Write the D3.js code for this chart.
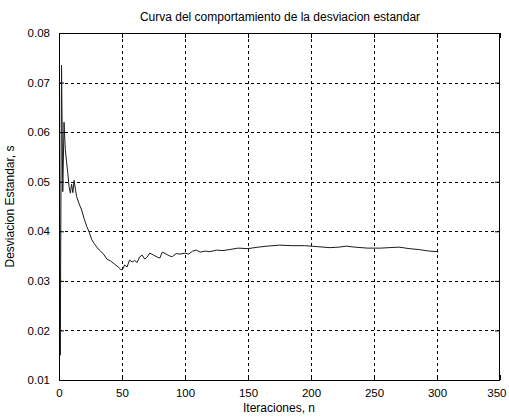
<!DOCTYPE html>
<html><head><meta charset="utf-8">
<script src="https://cdn.jsdelivr.net/npm/d3@7"></script>
<style>body{margin:0;background:#fff}svg{display:block}</style>
</head><body><div id="chart"></div>
<script>
const titleText = "Curva del comportamiento de la desviacion estandar";
const xLabel = "Iteraciones, n";
const yLabel = "Desviacion Estandar, s";
const xTicks = [0, 50, 100, 150, 200, 250, 300, 350];
const yTicks = [0.01, 0.02, 0.03, 0.04, 0.05, 0.06, 0.07, 0.08];
const iteraciones = [0,1,2,3,4,5,6,7,8,9,10,11,12,13,14,16,18,20,22,24,26,28,30,32,35,38,41,44,47,49,50,51,52,54,56,58,60,62,64,66,68,70,72,75,78,80,82,85,88,90,93,96,100,103,106,109,112,116,120,125,130,135,142,150,158,165,175,185,195,205,215,222,228,235,245,255,262,270,278,286,294,300,301];
const desviacion = [0.0805,0.015,0.0735,0.048,0.062,0.0565,0.054,0.0517,0.049,0.0477,0.0495,0.0478,0.0503,0.0485,0.047,0.0455,0.0443,0.0425,0.041,0.0398,0.0383,0.0375,0.0368,0.0362,0.0355,0.0344,0.034,0.0334,0.0328,0.0323,0.0322,0.0326,0.0332,0.0328,0.0342,0.0338,0.0341,0.0337,0.0348,0.0352,0.0344,0.0348,0.0356,0.0352,0.0348,0.0346,0.0358,0.0354,0.035,0.0349,0.0355,0.0354,0.0356,0.0354,0.036,0.0362,0.0358,0.036,0.0359,0.0362,0.0361,0.0363,0.0366,0.0365,0.0368,0.037,0.0372,0.0371,0.0371,0.0369,0.0367,0.0368,0.037,0.0368,0.0366,0.0366,0.0367,0.0368,0.0365,0.0363,0.036,0.0359,0.0358];

const W = 509, H = 418;
const m = {left: 59, right: 500, top: 33, bottom: 380};
const svg = d3.select("#chart").append("svg").attr("width", W).attr("height", H);
svg.append("rect").attr("width", W).attr("height", H).attr("fill", "#fff");

const x = d3.scaleLinear().domain([0, 350]).range([m.left, m.right]);
const y = d3.scaleLinear().domain([0.01, 0.08]).range([m.bottom, m.top]);
const font = "'Liberation Sans', Arial, sans-serif";
const fs = 11.5;

// grid
const g = svg.append("g");
g.selectAll(".vg").data(xTicks.slice(1, -1)).enter().append("line")
  .attr("x1", d => Math.round(x(d)) + 0.5).attr("x2", d => Math.round(x(d)) + 0.5)
  .attr("y1", m.top).attr("y2", m.bottom)
  .attr("stroke", "#000").attr("stroke-dasharray", "3,3").attr("stroke-width", 1);
g.selectAll(".hg").data(yTicks.slice(1, -1)).enter().append("line")
  .attr("y1", d => Math.round(y(d)) + 0.5).attr("y2", d => Math.round(y(d)) + 0.5)
  .attr("x1", m.left).attr("x2", m.right)
  .attr("stroke", "#000").attr("stroke-dasharray", "3,3").attr("stroke-width", 1);

// data line
svg.append("clipPath").attr("id", "clip").append("rect")
  .attr("x", m.left).attr("y", m.top).attr("width", m.right - m.left).attr("height", m.bottom - m.top);
const pts = iteraciones.map((n, i) => [n, desviacion[i]]);
svg.append("path").datum(pts).attr("clip-path", "url(#clip)")
  .attr("fill", "none").attr("stroke", "#1a1a1a").attr("stroke-width", 1)
  .attr("d", d3.line().x(d => x(d[0])).y(d => y(d[1])));

// axes (inside ticks)
const ax = svg.append("g").attr("font-family", font);
const bottomAxis = d3.axisBottom(x).tickValues(xTicks).tickSize(-5).tickFormat(d3.format("d")).tickPadding(9);
const topAxis = d3.axisTop(x).tickValues(xTicks).tickSize(-5).tickFormat("");
const leftAxis = d3.axisLeft(y).tickValues(yTicks).tickSize(-5).tickFormat(d3.format(".2f")).tickPadding(9);
const rightAxis = d3.axisRight(y).tickValues(yTicks).tickSize(-5).tickFormat("");
function style(sel) {
  sel.select(".domain").remove();
  sel.selectAll("line").attr("stroke", "#000");
  sel.selectAll("text").attr("font-family", font).attr("font-size", fs).attr("fill", "#000");
}
ax.append("g").attr("transform", `translate(0,${m.bottom})`).call(bottomAxis).call(style);
ax.append("g").attr("transform", `translate(0,${m.top})`).call(topAxis).call(style);
ax.append("g").attr("transform", `translate(${m.left},0)`).call(leftAxis).call(style);
ax.append("g").attr("transform", `translate(${m.right},0)`).call(rightAxis).call(style);
// keep last x tick label inside the page
ax.selectAll("text").filter(d => d === 350).attr("text-anchor", "end").attr("dx", 6);
svg.append("rect").attr("x", m.left + 0.5).attr("y", m.top + 0.5)
  .attr("width", m.right - m.left - 1).attr("height", m.bottom - m.top)
  .attr("fill", "none").attr("stroke", "#000").attr("stroke-width", 1);

// labels
svg.append("text").attr("x", 280).attr("y", 21).attr("text-anchor", "middle")
  .attr("font-family", font).attr("font-size", 12).text(titleText);
svg.append("text").attr("x", 279).attr("y", 412).attr("text-anchor", "middle")
  .attr("font-family", font).attr("font-size", 12).text(xLabel);
svg.append("text").attr("transform", `translate(14,${(m.top + m.bottom) / 2}) rotate(-90)`)
  .attr("text-anchor", "middle").attr("font-family", font).attr("font-size", 12).text(yLabel);
</script></body></html>
